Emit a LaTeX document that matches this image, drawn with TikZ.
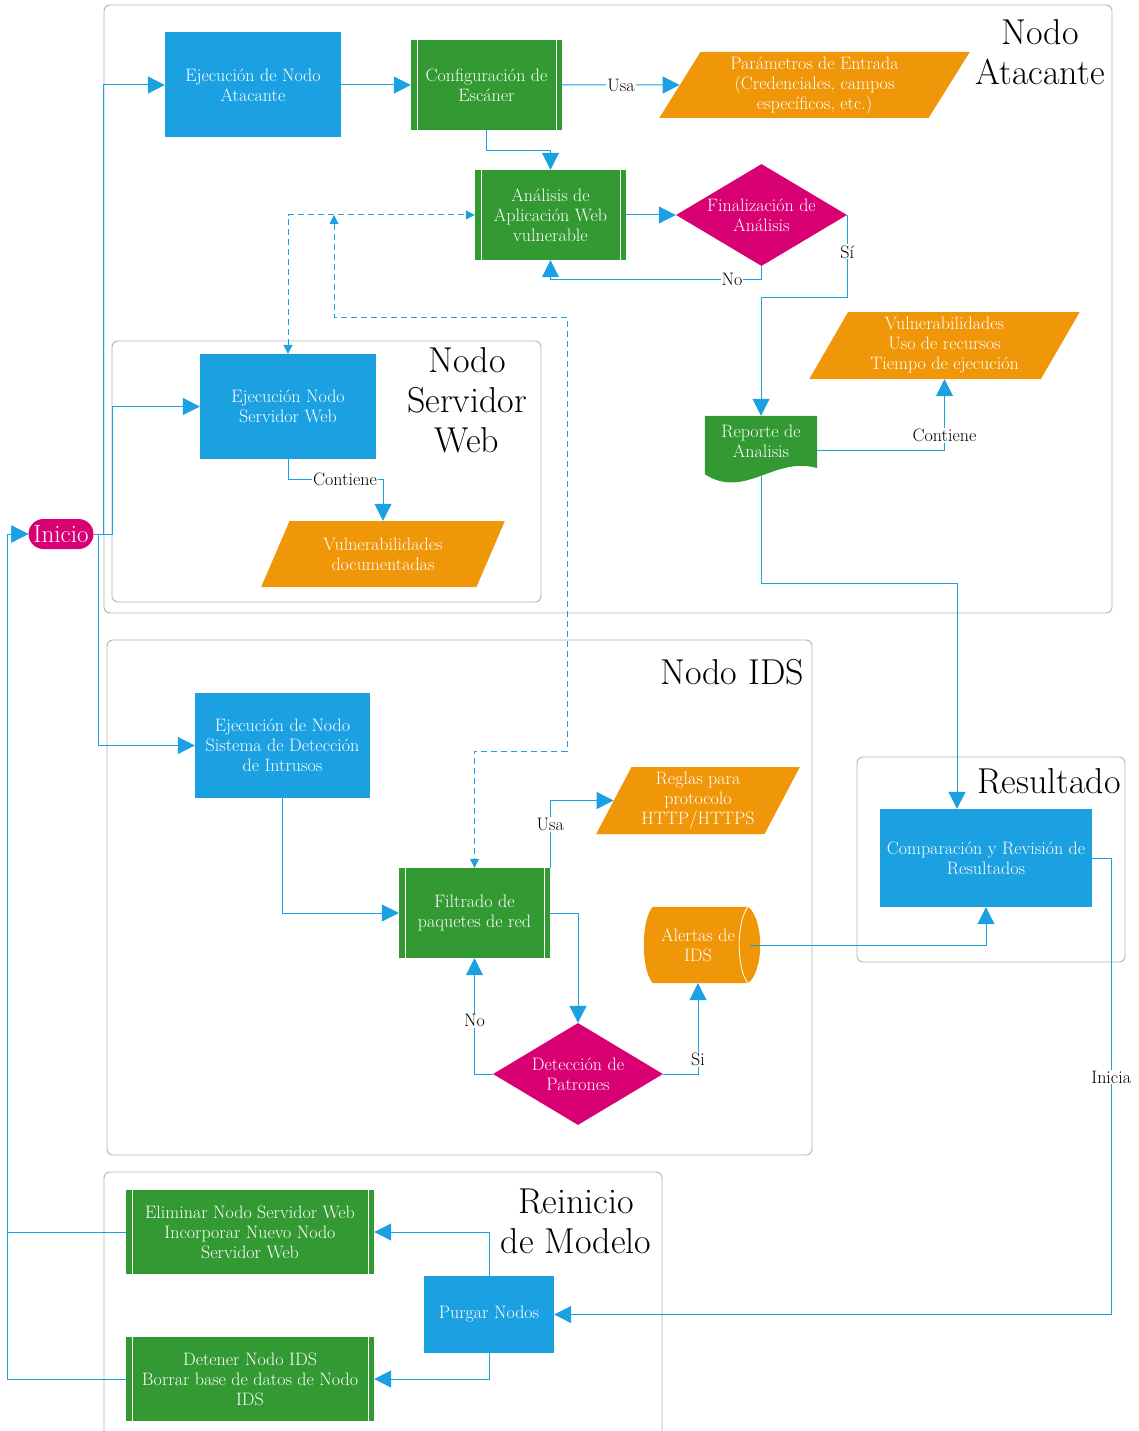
\documentclass[tikz,border=0pt]{standalone}
\usepackage{fontspec}
\usetikzlibrary{arrows.meta}
\usetikzlibrary{shapes.geometric}
\usetikzlibrary{backgrounds}

\definecolor{mblue}{HTML}{1BA1E2}
\definecolor{mgreen}{HTML}{339933}
\definecolor{morange}{HTML}{F09609}
\definecolor{mpink}{HTML}{D80073}

\begin{document}
\begin{tikzpicture}[x=1pt, y=-1pt,
  every node/.style={font=\fontsize{18}{20}\selectfont, align=center, inner sep=2pt},
  grupo/.style={draw=gray!60, line width=0.9pt, rounded corners=6pt},
  titulo/.style={font=\fontsize{36}{40}\selectfont},
  caja/.style={rectangle, fill=mblue, text=white},
  tarea/.style={rectangle, fill=mgreen, text=white,
    path picture={\draw[white, line width=0.8pt]
      ([xshift=6pt]path picture bounding box.north west) -- ([xshift=6pt]path picture bounding box.south west)
      ([xshift=-6pt]path picture bounding box.north east) -- ([xshift=-6pt]path picture bounding box.south east);}},
  datos/.style={trapezium, trapezium left angle=63, trapezium right angle=117,
    trapezium stretches=true, fill=morange, text=white},
  decision/.style={diamond, aspect=1.68, inner sep=-4pt, fill=mpink, text=white},
  arranque/.style={rectangle, rounded corners=15pt, fill=mpink, text=white,
    inner sep=0pt, font=\fontsize{25}{26}\selectfont},
  etiq/.style={fill=white, inner sep=1pt, text=black},
  flecha/.style={draw=mblue, line width=1pt, -{Triangle[length=17pt,width=17pt]}},
  dflecha/.style={draw=mblue, line width=1pt, dash pattern=on 6pt off 4pt,
    {Triangle[length=9pt,width=9pt]}-{Triangle[length=9pt,width=9pt]}}]
\useasboundingbox (0,0) rectangle (1138,1431);

% grupos
\draw[grupo] (104,5) rectangle (1112,613);
\draw[grupo] (112,341) rectangle (541,602);
\draw[grupo] (107,640) rectangle (812,1155);
\draw[grupo] (857,757) rectangle (1125,962);
\draw[grupo] (104,1431) |- (662,1172) -- (662,1431);
\node[titulo] (tAtk) at (1040,52) {Nodo\\Atacante};
\node[titulo] (tSrv) at (467,400) {Nodo\\Servidor\\Web};
\node[titulo] (tIds) at (732,672) {Nodo IDS};
\node[titulo] (tRes) at (1049,781) {Resultado};
\node[titulo] (tRei) at (576,1221) {Reinicio\\de Modelo};

% nodo atacante
\node[arranque, minimum width=65, minimum height=30] (inicio) at (61,534) {Inicio};
\node[caja, minimum width=176, minimum height=105] (atk) at (253,85) {Ejecución de Nodo\\Atacante};
\node[tarea, minimum width=151, minimum height=90] (conf) at (486.5,85) {Configuración de\\Escáner};
\node[datos, minimum width=311, minimum height=66] (param) at (814.5,85) {Parámetros de Entrada\\(Credenciales, campos\\específicos, etc.)};
\node[tarea, minimum width=151, minimum height=90] (anal) at (550.5,215) {Análisis de\\Aplicación Web\\vulnerable};
\node[decision, minimum width=171, minimum height=102] (fin) at (761.5,215) {Finalización de\\Análisis};
\node[datos, minimum width=271, minimum height=67] (vuln) at (944.5,345.5) {Vulnerabilidades\\Uso de recursos\\Tiempo de ejecución};
\node[rectangle, text=white, minimum width=112, minimum height=50] (rep) at (761,441) {Reporte de\\Analisis};
\begin{scope}[on background layer]
\fill[mgreen] (rep.north west) -- (rep.north east) -- ([yshift=-2pt]rep.south east)
  .. controls +(-42,-13) and +(40,26) .. ([yshift=-8pt]rep.south west) -- cycle;
\end{scope}

% nodo servidor web
\node[caja, minimum width=176, minimum height=105] (srv) at (288,406.5) {Ejecución Nodo\\Servidor Web};
\node[datos, minimum width=244, minimum height=66] (vdoc) at (383,554) {Vulnerabilidades\\documentadas};

% nodo ids
\node[caja, minimum width=175, minimum height=105] (ids) at (282.5,745.5) {Ejecución de Nodo\\Sistema de Detección\\de Intrusos};
\node[datos, minimum width=204, minimum height=67] (reglas) at (698,800.5) {Reglas para\\protocolo\\HTTP/HTTPS};
\node[tarea, minimum width=151, minimum height=90] (filt) at (474.5,913) {Filtrado de\\paquetes de red};
\node[decision, minimum width=170, minimum height=102] (det) at (578,1074) {Detección de\\Patrones};
\node[rectangle, text=white, minimum width=104, minimum height=76] (alert) at (698,945) {Alertas de\\IDS};
\begin{scope}[on background layer]
\fill[morange] ([xshift=7pt]alert.north west) -- ([xshift=-2pt]alert.north east)
  .. controls +(16,13) and +(16,-13) .. ([xshift=-2pt]alert.south east)
  -- ([xshift=7pt]alert.south west)
  .. controls +(-12,-13) and +(-12,13) .. ([xshift=7pt]alert.north west) -- cycle;
\end{scope}
\draw[white, line width=0.8pt] ([xshift=-2pt]alert.north east)
  .. controls +(-12,13) and +(-12,-13) .. ([xshift=-2pt]alert.south east);

% resultado y reinicio
\node[caja, minimum width=212, minimum height=98] (cmp) at (986,858) {Comparación y Revisión de\\Resultados};
\node[caja, minimum width=130, minimum height=77] (purga) at (489,1314.5) {Purgar Nodos};
\node[tarea, minimum width=248, minimum height=84] (elim) at (250,1232) {Eliminar Nodo Servidor Web\\Incorporar Nuevo Nodo\\Servidor Web};
\node[tarea, minimum width=248, minimum height=84] (deten) at (250,1379) {Detener Nodo IDS\\Borrar base de datos de Nodo\\IDS};

% conectores
\draw[flecha] (inicio.east) -- ++(10,0) |- (atk.west);
\draw[flecha] (inicio.east) -- ++(19,0) |- (srv.west);
\draw[flecha] (inicio.east) -- ++(5,0) |- (ids.west);
\draw[flecha] (atk.east) -- (conf.west);
\draw[flecha] (conf.east) -- node[etiq]{Usa} (param.west);
\draw[flecha] (conf.south) -- ++(0,20) -| (anal.north);
\draw[flecha] (anal.east) -- (fin.west);
\draw[flecha] (fin.south) -- ++(0,13) -| node[etiq, pos=0.07]{No} (anal.south);
\draw[flecha] (fin.east) -- node[etiq, pos=0.45]{Sí} ++(0,82) -| (rep.north);
\draw[flecha] ([yshift=-9pt]rep.east) -| node[etiq, pos=0.6]{Contiene} (vuln.south);
\draw[flecha] ([yshift=-10pt]rep.south) -- ++(0,107) -| ([xshift=-29pt]cmp.north);
\path (334,215) coordinate (pd);
\draw[dflecha] (srv.north) |- (anal.west);
\draw[dflecha] (pd) -- ++(0,102) -- ++(233,0) -- ++(0,434) -| (filt.north);
\draw[flecha] (srv.south) -- ++(0,20) -| node[etiq, pos=0.3]{Contiene} (vdoc.north);
\draw[flecha] (ids.south) |- (filt.west);
\draw[flecha] (filt.north east) |- node[etiq, pos=0.32]{Usa} (reglas.west);
\draw[flecha] (filt.east) -| (det.north);
\draw[flecha] (det.west) -| node[etiq, pos=0.73]{No} (filt.south);
\draw[flecha] (det.east) -| node[etiq, pos=0.58]{Si} (alert.south);
\draw[flecha] (alert.east) -| (cmp.south);
\draw[flecha] (cmp.east) -- ++(19,0) |- node[etiq, pos=0.24]{Inicia} (purga.east);
\draw[flecha] (purga.north) |- (elim.east);
\draw[flecha] (purga.south) |- (deten.east);
\draw[flecha] (elim.west) -- ++(-118,0) |- (inicio.west);
\draw[flecha] (deten.west) -- ++(-118,0) |- (inicio.west);
\end{tikzpicture}
\end{document}
